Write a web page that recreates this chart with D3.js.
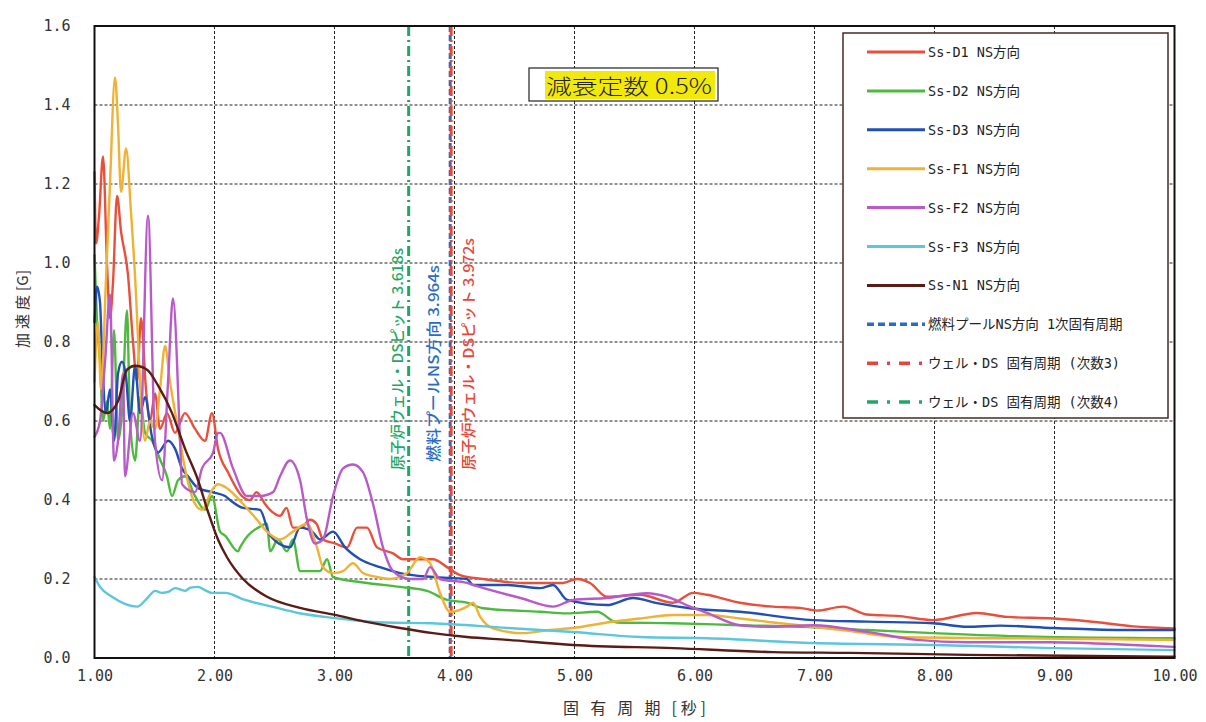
<!DOCTYPE html>
<html><head><meta charset="utf-8">
<script src="https://cdn.jsdelivr.net/npm/d3@7"></script>
<style>
body{margin:0;background:#fff;}
svg{display:block;}
</style></head>
<body>
<svg id="chart" width="1206" height="722"></svg>
<script>
// ---- data: [period (s), acceleration (G)] ----
const ssD1 = [[1.00,1.23],[1.013,1.05],[1.038,1.12],[1.071,1.27],[1.104,1.00],[1.129,0.86],[1.154,0.95],[1.188,1.17],[1.221,1.08],[1.279,0.97],[1.321,0.80],[1.354,0.70],[1.388,0.86],[1.429,0.68],[1.463,0.60],[1.504,0.67],[1.546,0.58],[1.604,0.62],[1.671,0.57],[1.754,0.62],[1.838,0.58],[1.921,0.55],[1.979,0.62],[2.029,0.53],[2.113,0.47],[2.229,0.41],[2.296,0.40],[2.35,0.42],[2.421,0.39],[2.48,0.37],[2.546,0.36],[2.60,0.38],[2.654,0.33],[2.72,0.33],[2.796,0.35],[2.85,0.34],[2.904,0.30],[3.004,0.29],[3.104,0.28],[3.188,0.33],[3.271,0.33],[3.354,0.28],[3.488,0.265],[3.571,0.25],[3.688,0.25],[3.821,0.25],[3.938,0.23],[4.046,0.21],[4.238,0.20],[4.571,0.19],[4.904,0.19],[5.021,0.20],[5.129,0.19],[5.271,0.155],[5.546,0.16],[5.821,0.14],[5.988,0.165],[6.104,0.16],[6.379,0.14],[6.654,0.13],[6.879,0.127],[7.021,0.12],[7.238,0.13],[7.438,0.11],[7.713,0.106],[7.988,0.096],[8.354,0.114],[8.604,0.104],[8.988,0.10],[9.379,0.09],[9.654,0.08],[10.0,0.075]];
const ssD2 = [[1.00,1.02],[1.021,0.85],[1.046,0.75],[1.071,0.60],[1.104,0.65],[1.129,0.58],[1.163,0.83],[1.196,0.55],[1.229,0.62],[1.271,0.88],[1.296,0.60],[1.338,0.50],[1.379,0.66],[1.421,0.57],[1.479,0.55],[1.55,0.50],[1.604,0.46],[1.646,0.41],[1.696,0.45],[1.754,0.46],[1.838,0.41],[1.921,0.375],[1.979,0.41],[2.046,0.32],[2.088,0.31],[2.196,0.27],[2.213,0.28],[2.279,0.31],[2.363,0.33],[2.438,0.34],[2.463,0.27],[2.529,0.30],[2.604,0.27],[2.654,0.30],[2.713,0.22],[2.879,0.22],[2.938,0.25],[2.988,0.205],[3.271,0.19],[3.546,0.18],[3.771,0.17],[3.938,0.147],[4.104,0.14],[4.238,0.126],[4.713,0.117],[4.938,0.113],[5.188,0.117],[5.354,0.09],[5.821,0.088],[6.379,0.083],[6.879,0.079],[7.438,0.071],[7.988,0.063],[8.821,0.054],[10.0,0.05]];
const ssD3 = [[1.00,0.85],[1.021,0.94],[1.046,0.90],[1.063,0.77],[1.096,0.62],[1.129,0.68],[1.163,0.55],[1.196,0.72],[1.229,0.75],[1.263,0.71],[1.296,0.60],[1.338,0.74],[1.379,0.62],[1.421,0.66],[1.479,0.56],[1.529,0.52],[1.613,0.55],[1.671,0.53],[1.729,0.48],[1.779,0.46],[1.863,0.43],[1.979,0.42],[2.088,0.41],[2.129,0.40],[2.238,0.38],[2.379,0.375],[2.463,0.31],[2.629,0.28],[2.713,0.33],[2.813,0.32],[2.879,0.30],[2.988,0.32],[3.088,0.28],[3.213,0.25],[3.379,0.23],[3.546,0.215],[3.821,0.205],[4.104,0.20],[4.154,0.185],[4.438,0.185],[4.713,0.177],[4.821,0.185],[4.938,0.147],[5.271,0.134],[5.488,0.152],[5.688,0.139],[5.963,0.126],[6.379,0.117],[6.988,0.096],[7.438,0.092],[7.988,0.088],[8.271,0.079],[8.546,0.082],[8.988,0.076],[9.521,0.071],[10.0,0.071]];
const ssF1 = [[1.00,0.70],[1.029,0.85],[1.054,0.68],[1.096,0.96],[1.129,1.20],[1.171,1.47],[1.196,1.35],[1.221,1.18],[1.263,1.29],[1.304,1.13],[1.346,0.92],[1.379,0.70],[1.421,0.55],[1.463,0.60],[1.504,0.58],[1.546,0.68],[1.588,0.79],[1.629,0.70],[1.696,0.58],[1.754,0.48],[1.838,0.39],[1.896,0.375],[1.979,0.425],[2.029,0.44],[2.104,0.43],[2.238,0.39],[2.354,0.35],[2.438,0.32],[2.546,0.30],[2.654,0.32],[2.771,0.34],[2.854,0.28],[2.904,0.23],[2.988,0.215],[3.071,0.22],[3.154,0.24],[3.238,0.215],[3.354,0.205],[3.463,0.20],[3.604,0.215],[3.713,0.255],[3.796,0.24],[3.879,0.165],[3.963,0.117],[4.104,0.13],[4.154,0.14],[4.213,0.105],[4.321,0.075],[4.571,0.063],[4.796,0.071],[4.988,0.076],[5.271,0.09],[5.546,0.10],[5.821,0.109],[6.104,0.109],[6.379,0.10],[6.654,0.09],[6.988,0.079],[7.30,0.068],[7.713,0.053],[8.546,0.05],[10.0,0.046]];
const ssF2 = [[1.00,0.56],[1.046,0.60],[1.088,0.75],[1.129,0.92],[1.163,0.50],[1.196,0.55],[1.238,0.72],[1.254,0.46],[1.321,0.62],[1.379,0.55],[1.446,1.12],[1.504,0.55],[1.563,0.45],[1.613,0.70],[1.654,0.91],[1.713,0.55],[1.729,0.44],[1.838,0.42],[1.896,0.48],[1.988,0.52],[2.029,0.57],[2.046,0.57],[2.154,0.48],[2.271,0.41],[2.379,0.41],[2.488,0.42],[2.546,0.46],[2.629,0.50],[2.713,0.45],[2.771,0.35],[2.838,0.29],[2.904,0.30],[2.988,0.41],[3.071,0.48],[3.154,0.49],[3.238,0.47],[3.321,0.39],[3.404,0.28],[3.488,0.22],[3.629,0.20],[3.738,0.20],[3.796,0.23],[3.879,0.20],[4.104,0.19],[4.154,0.185],[4.571,0.15],[4.821,0.13],[4.988,0.147],[5.271,0.152],[5.604,0.164],[5.771,0.155],[5.963,0.13],[6.104,0.114],[6.379,0.083],[6.654,0.079],[6.988,0.083],[7.438,0.066],[7.854,0.046],[8.271,0.04],[8.963,0.04],[9.654,0.033],[10.0,0.028]];
const ssF3 = [[1.00,0.205],[1.046,0.18],[1.146,0.155],[1.354,0.13],[1.45,0.155],[1.504,0.17],[1.56,0.165],[1.62,0.168],[1.671,0.177],[1.754,0.17],[1.80,0.178],[1.863,0.18],[1.92,0.172],[1.979,0.165],[2.088,0.165],[2.254,0.147],[2.479,0.13],[2.696,0.114],[2.921,0.104],[3.146,0.096],[3.421,0.09],[3.813,0.088],[4.438,0.076],[4.988,0.066],[5.546,0.053],[6.104,0.05],[6.988,0.038],[7.988,0.033],[8.988,0.025],[10.0,0.02]];
const ssN1 = [[1.00,0.64],[1.104,0.62],[1.196,0.65],[1.271,0.73],[1.338,0.74],[1.438,0.73],[1.529,0.69],[1.646,0.62],[1.754,0.53],[1.863,0.45],[1.946,0.37],[2.029,0.30],[2.104,0.255],[2.238,0.20],[2.438,0.155],[2.713,0.127],[3.004,0.109],[3.254,0.092],[3.546,0.076],[3.821,0.063],[4.104,0.053],[4.438,0.046],[4.988,0.033],[5.821,0.025],[6.654,0.015],[7.296,0.013],[8.271,0.008],[10.0,0.003]];

const seriesNames = ["Ss-D1 NS方向","Ss-D2 NS方向","Ss-D3 NS方向","Ss-F1 NS方向","Ss-F2 NS方向","Ss-F3 NS方向","Ss-N1 NS方向"];
const seriesColors = ["#e8503c","#4cba3e","#2050b4","#f0b234","#b85ac8","#5cc6dc","#5a1c14"];
const seriesData = [ssD1, ssD2, ssD3, ssF1, ssF2, ssF3, ssN1];

const markerNames = ["燃料プールNS方向 1次固有周期","ウェル・DS 固有周期 (次数3)","ウェル・DS 固有周期 (次数4)"];
const markerPeriods = [3.964, 3.972, 3.618];
const markerColors = ["#2a6cc0","#e8463a","#1fa865"];
const markerLabels = ["燃料プールNS方向 3.964s","原子炉ウェル・DSピット 3.972s","原子炉ウェル・DSピット 3.618s"];

const xTicks = [1,2,3,4,5,6,7,8,9,10];
const yTicks = [0,0.2,0.4,0.6,0.8,1.0,1.2,1.4,1.6];

// ---- layout ----
const svg = d3.select("#chart");
const x = d3.scaleLinear().domain([1,10]).range([94.5,1174.5]);
const y = d3.scaleLinear().domain([0,1.6]).range([658,26]);

// gridlines
const grid = svg.append("g");
grid.selectAll("line.vx").data(xTicks.slice(1,-1)).join("line")
  .attr("x1",d=>x(d)).attr("x2",d=>x(d)).attr("y1",y(1.6)).attr("y2",y(0))
  .attr("stroke","#222").attr("stroke-width",1).attr("stroke-dasharray","3,2");
grid.selectAll("line.hy").data(yTicks.slice(1,-1)).join("line")
  .attr("y1",d=>y(d)).attr("y2",d=>y(d)).attr("x1",x(1)).attr("x2",x(10))
  .attr("stroke","#222").attr("stroke-width",1).attr("stroke-dasharray","3,2");

// axes
const fontMono = "'DejaVu Sans Mono','Liberation Mono',monospace";
const xAxis = svg.append("g").attr("transform",`translate(0,${y(0)})`)
  .call(d3.axisBottom(x).tickValues(xTicks).tickFormat(d3.format(".2f")).tickSize(0).tickPadding(12));
const yAxis = svg.append("g").attr("transform",`translate(${x(1)},0)`)
  .call(d3.axisLeft(y).tickValues(yTicks).tickFormat(d3.format(".1f")).tickSize(0).tickPadding(24));
[xAxis,yAxis].forEach(a=>{
  a.select(".domain").remove();
  a.selectAll("text").attr("font-family",fontMono).attr("font-size",15).attr("fill","#333");
});

// marker vertical lines
const markerDash = ["6,3","10,4,2,4","10,4,2,4"];
svg.append("g").selectAll("line").data(markerPeriods).join("line")
  .attr("x1",d=>x(d)).attr("x2",d=>x(d)).attr("y1",y(1.6)).attr("y2",y(0))
  .attr("stroke",(d,i)=>markerColors[i]).attr("stroke-width",3)
  .attr("stroke-dasharray",(d,i)=>markerDash[i]);

// series
const line = d3.line().x(d=>x(d[0])).y(d=>y(d[1])).curve(d3.curveMonotoneX);
const sg = svg.append("g");
seriesData.forEach((s,i)=>{
  sg.append("path").datum(s).attr("d",line).attr("fill","none")
    .attr("stroke",seriesColors[i]).attr("stroke-width",2.4)
    .attr("stroke-linejoin","round").attr("stroke-linecap","round");
});

// rotated marker labels
const labelFont = "'Noto Sans CJK JP','Noto Sans',sans-serif";
const labelPos = [[439,462,197],[474,470,232],[403,470,222]];
markerLabels.forEach((t,i)=>{
  svg.append("text").text(t)
    .attr("transform",`translate(${labelPos[i][0]},${labelPos[i][1]}) rotate(-90)`)
    .attr("font-family",labelFont).attr("font-size",14.5).attr("font-weight",500)
    .attr("textLength",labelPos[i][2]).attr("lengthAdjust","spacingAndGlyphs")
    .attr("fill",markerColors[i]);
});

// plot frame
svg.append("rect").attr("x",x(1)).attr("y",y(1.6)).attr("width",x(10)-x(1)).attr("height",y(0)-y(1.6))
  .attr("fill","none").attr("stroke","#111").attr("stroke-width",2);

// title box
svg.append("rect").attr("x",529).attr("y",68).attr("width",189).attr("height",33)
  .attr("fill","#fff").attr("stroke","#222").attr("stroke-width",1.2);
svg.append("rect").attr("x",545).attr("y",71).attr("width",170).attr("height",28).attr("fill","#f2e80a");
svg.append("text").text("減衰定数 0.5%").attr("x",546).attr("y",94)
  .attr("font-family","'Noto Sans CJK JP',sans-serif").attr("font-weight",300).attr("font-size",21)
  .attr("textLength",166).attr("lengthAdjust","spacingAndGlyphs").attr("fill","#222");

// legend
const lg = svg.append("g");
lg.append("rect").attr("x",843).attr("y",33).attr("width",325).attr("height",385)
  .attr("fill","#fff").attr("stroke","#4a2a22").attr("stroke-width",1.5);
const legendItems = seriesNames.map((n,i)=>({name:n,color:seriesColors[i],dash:null,w:3}))
  .concat(markerNames.map((n,i)=>({name:n,color:markerColors[i],dash:i===0?"7,4":"11,9,3,9",w:3.5})));
legendItems.forEach((it,i)=>{
  const cy = 52 + i*38.9;
  lg.append("line").attr("x1",867).attr("x2",925).attr("y1",cy).attr("y2",cy)
    .attr("stroke",it.color).attr("stroke-width",it.w).attr("stroke-dasharray",it.dash);
  lg.append("text").text(it.name).attr("x",928).attr("y",cy+5)
    .attr("font-family","'DejaVu Sans Mono','Noto Sans CJK JP',monospace").attr("font-size",13.5).attr("fill","#222");
});

// axis titles
svg.append("text").text("固 有 周 期 [秒]").attr("x",563).attr("y",714)
  .attr("textLength",143).attr("lengthAdjust","spacing")
  .attr("font-family","'Noto Sans CJK JP',sans-serif").attr("font-size",16).attr("fill","#333");
svg.append("text").text("加 速 度 [G]").attr("transform","translate(28,348) rotate(-90)")
  .attr("textLength",78).attr("lengthAdjust","spacing")
  .attr("font-family","'Noto Sans CJK JP',sans-serif").attr("font-size",15).attr("fill","#333");
</script>
</body></html>
